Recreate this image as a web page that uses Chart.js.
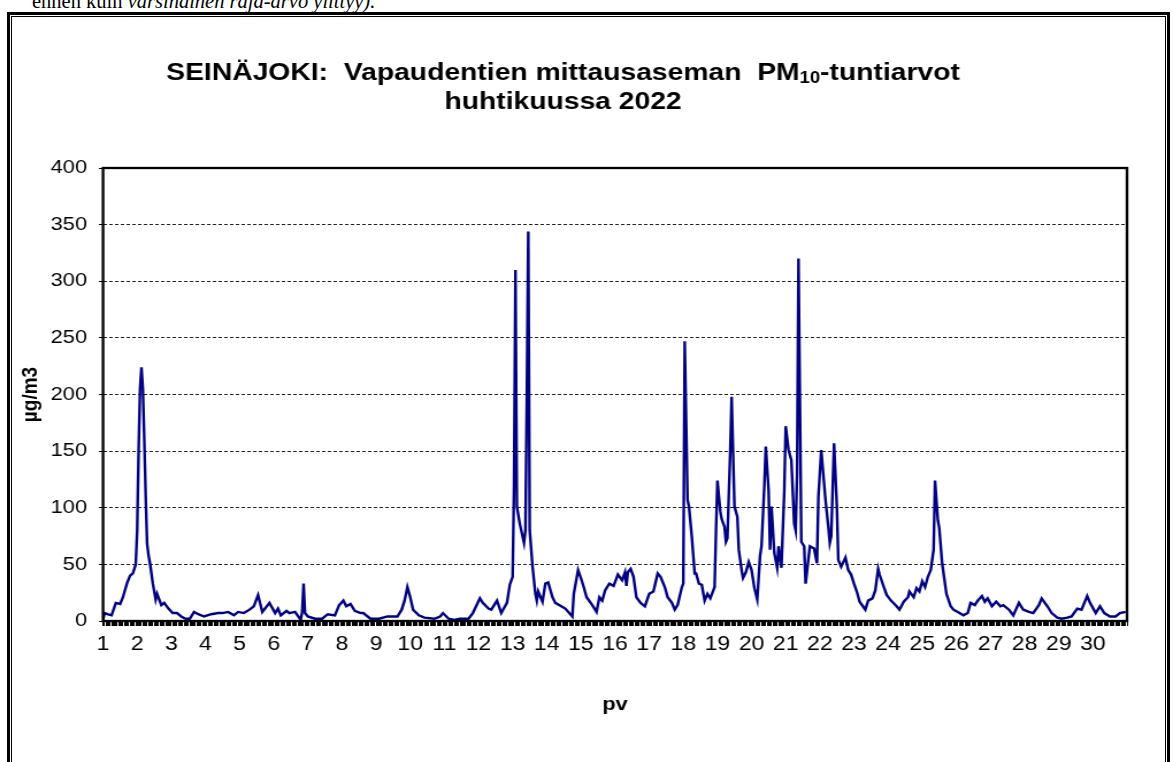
<!DOCTYPE html>
<html>
<head>
<meta charset="utf-8">
<script src="https://cdn.jsdelivr.net/npm/chart.js@4.4.0/dist/chart.umd.min.js"></script>
<style>
  html, body { margin: 0; padding: 0; background: #fff; }
  body { width: 1173px; height: 762px; position: relative; overflow: hidden; }
  #note { position: absolute; left: 32px; top: -9px; font-family: "Liberation Serif", "Times New Roman", serif;
          font-size: 20.5px; line-height: 20px; white-space: nowrap; color: #000; }
  #box { position: absolute; left: 7px; top: 12px; width: 1157px; height: 800px; border: 3px solid #000; }
  #boxInner { position: absolute; left: 1px; top: 1px; right: 1px; bottom: 1px; border: 1px solid #000; }
  /* the chart picture in the source is stretched sideways, so the canvas is too */
  #wrap { position: absolute; left: 0; top: 0; width: 1020px; height: 762px;
          transform: scaleX(1.15); transform-origin: 0 0; }
</style>
</head>
<body>
<div id="note">ennen kuin <i>varsinainen raja-arvo ylittyy).</i></div>
<div id="box"><div id="boxInner"></div></div>
<div id="wrap"><canvas id="chart" width="1020" height="762"></canvas></div>
<script>
// Hourly PM10 readings (hour from start of April, µg/m3)
const hours = [
  0, 1, 3, 6, 9, 12, 14, 17, 19, 21, 23, 24, 25, 26, 27, 28, 29, 30, 31, 32, 33, 35, 37, 38, 41, 43, 46, 49,
  52, 55, 58, 61, 64, 67, 71, 76, 81, 84, 88, 92, 95, 99, 103, 106, 109, 112, 117, 121, 123, 125, 129, 131,
  135, 139, 140, 141, 142, 144, 149, 154, 158, 163, 166, 169, 171, 174, 177, 181, 183, 188, 194, 200, 207,
  210, 212, 214, 216, 218, 222, 226, 233, 237, 239, 243, 247, 251, 257, 260, 265, 267, 271, 273, 277, 280,
  284, 286, 288, 289, 290, 291, 293, 296, 297, 298, 299, 300, 302, 304, 305, 306, 309, 311, 313, 316, 318,
  321, 325, 330, 331, 334, 336, 338, 340, 344, 347, 349, 351, 353, 356, 359, 362, 365, 367, 368, 369, 371,
  373, 375, 378, 381, 384, 387, 390, 392, 395, 397, 400, 402, 404, 407, 408, 409, 411, 412, 414, 416, 417,
  419, 421, 423, 425, 427, 430, 431, 432, 434, 435, 437, 438, 439, 441, 442, 444, 446, 447, 449, 450, 452,
  454, 456, 458, 460, 462, 463, 465, 466, 468, 469, 470, 472, 474, 475, 477, 479, 480, 482, 484, 486, 487,
  488, 489, 491, 493, 494, 497, 500, 502, 503, 505, 506, 508, 510, 511, 512, 514, 516, 517, 519, 522, 524,
  526, 528, 530, 532, 536, 538, 541, 543, 545, 546, 549, 551, 554, 558, 560, 563, 566, 567, 570, 572, 574,
  576, 578, 580, 582, 584, 585, 587, 588, 590, 592, 593, 596, 598, 601, 605, 608, 610, 613, 615, 618, 620,
  622, 625, 628, 631, 633, 637, 640, 644, 647, 651, 654, 658, 660, 664, 667, 671, 674, 678, 681, 685, 688,
  690, 692, 694, 698, 701, 704, 708, 712, 715, 719
];
const pm10 = [
  1, 7, 6, 5, 16, 15, 21, 34, 40, 42, 50, 80, 150, 205, 224, 205, 160, 110, 68, 58, 51, 33, 19, 24, 14, 16, 11, 7,
  7, 4, 2, 2, 8, 6, 4, 6, 7, 7, 8, 5, 8, 7, 10, 13, 23, 8, 16, 7, 11, 5, 9, 7,
  8, 1, 8, 33, 7, 4, 2, 2, 6, 5, 14, 18, 13, 15, 9, 7, 7, 2, 2, 4, 4,
  10, 18, 30, 21, 10, 5, 3, 2, 4, 7, 2, 1, 2, 2, 7, 20, 16, 11, 10, 18, 7,
  16, 32, 39, 120, 310, 101, 86, 69, 80, 200, 344, 80, 48, 24, 18, 26, 17, 33, 34, 21, 16,
  14, 11, 4, 24, 45, 38, 30, 21, 14, 8, 21, 18, 27, 33, 31, 41, 36, 43, 31, 43, 46,
  39, 21, 16, 13, 24, 26, 42, 39, 30, 21, 16, 10, 14, 30, 33, 247, 107, 101, 74, 42, 42,
  33, 32, 18, 24, 20, 30, 80, 124, 97, 90, 83, 70, 73, 150, 198, 101, 92, 63, 45, 38, 43,
  52, 45, 29, 19, 58, 66, 120, 154, 115, 63, 101, 60, 47, 66, 47, 115, 172, 151, 142, 86, 80,
  130, 320, 70, 66, 33, 66, 64, 51, 110, 151, 136, 107, 83, 69, 75, 157, 101, 54, 48, 56, 45,
  41, 33, 26, 17, 10, 18, 20, 27, 46, 41, 30, 23, 18, 13, 10, 17, 21, 26, 21, 29, 26,
  35, 30, 39, 45, 63, 124, 89, 82, 51, 33, 24, 13, 10, 8, 5, 7, 16, 14, 18, 22, 17,
  20, 13, 17, 13, 14, 10, 5, 16, 10, 8, 7, 14, 20, 13, 7, 3, 2, 3, 4, 11, 10,
  16, 22, 16, 7, 13, 7, 4, 4, 7, 8
];
const dayLabels = ['1','2','3','4','5','6','7','8','9','10','11','12','13','14','15',
  '16','17','18','19','20','21','22','23','24','25','26','27','28','29','30'];
const titleMain = 'SEINÄJOKI:  Vapaudentien mittausaseman  PM';
const titleSub = '10';
const titleEnd = '-tuntiarvot';
const titleLine2 = 'huhtikuussa 2022';

const FONT = '"Liberation Sans", Arial, sans-serif';

// title with subscript
const titlePlugin = {
  id: 'pmTitle',
  afterDraw(chart) {
    const ctx = chart.ctx;
    const big = 'bold 24.6px ' + FONT;
    const small = 'bold 16px ' + FONT;
    const parts = [[titleMain, big, 0], [titleSub, small, 3], [titleEnd, big, 0]];
    const cx = 489.6;
    ctx.save();
    ctx.fillStyle = '#000';
    ctx.textBaseline = 'alphabetic';
    let total = 0;
    parts.forEach(p => { ctx.font = p[1]; total += ctx.measureText(p[0]).width; });
    let x = cx - total / 2;
    parts.forEach(p => {
      ctx.font = p[1];
      ctx.fillText(p[0], x, 80 + p[2]);
      x += ctx.measureText(p[0]).width;
    });
    ctx.font = big;
    ctx.textAlign = 'center';
    ctx.fillText(titleLine2, cx, 109);
    ctx.restore();
  }
};

// black frame round the plot area
const framePlugin = {
  id: 'plotFrame',
  afterDatasetsDraw(chart) {
    const a = chart.chartArea;
    const ctx = chart.ctx;
    ctx.save();
    ctx.strokeStyle = '#000';
    ctx.lineWidth = 2.3;
    ctx.strokeRect(a.left, a.top, a.right - a.left, a.bottom - a.top);
    ctx.restore();
  }
};

new Chart(document.getElementById('chart'), {
  type: 'line',
  data: {
    datasets: [{
      data: hours.map((h, i) => ({ x: h, y: pm10[i] })),
      borderColor: '#000080',
      borderWidth: 2.4,
      pointRadius: 0,
      tension: 0,
      fill: false
    }]
  },
  options: {
    responsive: false,
    animation: false,
    devicePixelRatio: 1,
    layout: { padding: { left: 0, top: 168, right: 40, bottom: 0 } },
    plugins: {
      legend: { display: false },
      tooltip: { enabled: false },
      title: { display: false }
    },
    scales: {
      x: {
        type: 'linear',
        min: 0,
        max: 720,
        afterFit(scale) { scale.height = 141; },
        afterBuildTicks(scale) {
          const t = [];
          for (let h = 0; h <= 720; h++) t.push({ value: h });
          scale.ticks = t;
        },
        ticks: {
          autoSkip: false,
          maxRotation: 0,
          padding: 6,
          color: '#000',
          font: { family: FONT, size: 20 },
          callback: v => (v % 24 === 0 && v < 720) ? dayLabels[v / 24] : ''
        },
        grid: { drawOnChartArea: false, drawTicks: true, tickLength: 5, tickColor: '#000', tickWidth: 1 },
        border: { display: false },
        title: { display: true, text: 'pv', color: '#000', font: { family: FONT, size: 19, weight: 'bold' },
                 padding: { top: 0, bottom: 46 } }
      },
      y: {
        min: 0,
        max: 400,
        afterFit(scale) { scale.width = 89.6; },
        ticks: { stepSize: 50, padding: 10.4, color: '#000', font: { family: FONT, size: 19 } },
        grid: { color: '#222', lineWidth: 1, tickLength: 3.5, tickColor: '#000' },
        border: { display: false, dash: [3, 2] },
        title: { display: true, text: 'µg/m3', color: '#000', font: { family: FONT, size: 19, weight: 'bold' },
                 padding: { top: 15.6, bottom: 0 } }
      }
    }
  },
  plugins: [titlePlugin, framePlugin]
});
</script>
</body>
</html>
